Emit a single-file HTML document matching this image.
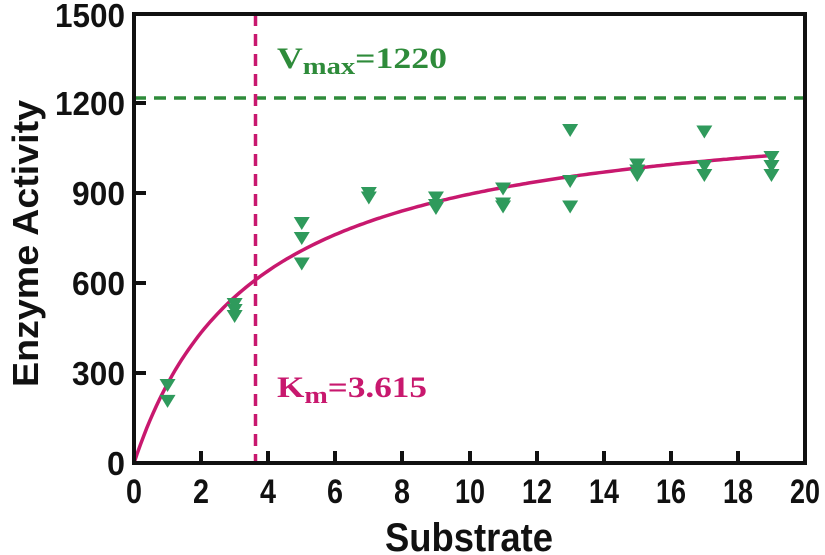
<!DOCTYPE html><html><head><meta charset="utf-8"><style>body{margin:0;background:#fff}svg{display:block}</style></head><body>
<svg width="825" height="555" viewBox="0 0 825 555" font-family="Liberation Sans, sans-serif">
<defs><path id="t" d="M-8,-6 L8,-6 L0,7 Z" fill="#2f9a5c"/></defs>
<line x1="134" y1="98" x2="805" y2="98" stroke="#2e8b3a" stroke-width="3.5" stroke-dasharray="12,8"/>
<line x1="255.5" y1="14" x2="255.5" y2="463" stroke="#c8186e" stroke-width="3.5" stroke-dasharray="12,8"/>
<path id="curve" fill="none" stroke="#c8186e" stroke-width="3.5" d=""/>
<g id="pts"></g>
<rect x="134" y="14" width="671" height="449" fill="none" stroke="#111" stroke-width="4"/>
<g stroke="#111" stroke-width="4">
<line x1="134" y1="373" x2="146" y2="373"/><line x1="134" y1="283" x2="146" y2="283"/><line x1="134" y1="193" x2="146" y2="193"/><line x1="134" y1="103" x2="146" y2="103"/>
<line x1="201" y1="463" x2="201" y2="451"/><line x1="268" y1="463" x2="268" y2="451"/><line x1="335" y1="463" x2="335" y2="451"/><line x1="402" y1="463" x2="402" y2="451"/><line x1="470" y1="463" x2="470" y2="451"/><line x1="537" y1="463" x2="537" y2="451"/><line x1="604" y1="463" x2="604" y2="451"/><line x1="671" y1="463" x2="671" y2="451"/><line x1="738" y1="463" x2="738" y2="451"/>
</g>
<g font-size="33" font-weight="bold" fill="#111">
<text x="55" y="27" textLength="70" lengthAdjust="spacingAndGlyphs">1500</text>
<text x="55" y="115" textLength="70" lengthAdjust="spacingAndGlyphs">1200</text>
<text x="72" y="205" textLength="53" lengthAdjust="spacingAndGlyphs">900</text>
<text x="72" y="295" textLength="53" lengthAdjust="spacingAndGlyphs">600</text>
<text x="72" y="385" textLength="53" lengthAdjust="spacingAndGlyphs">300</text>
<text x="107" y="475" textLength="18" lengthAdjust="spacingAndGlyphs">0</text>
</g>
<g font-size="34" font-weight="bold" fill="#111">
<text x="126" y="503" textLength="16" lengthAdjust="spacingAndGlyphs">0</text>
<text x="193" y="503" textLength="16" lengthAdjust="spacingAndGlyphs">2</text>
<text x="260" y="503" textLength="16" lengthAdjust="spacingAndGlyphs">4</text>
<text x="327" y="503" textLength="16" lengthAdjust="spacingAndGlyphs">6</text>
<text x="394" y="503" textLength="16" lengthAdjust="spacingAndGlyphs">8</text>
<text x="455" y="503" textLength="30" lengthAdjust="spacingAndGlyphs">10</text>
<text x="522" y="503" textLength="30" lengthAdjust="spacingAndGlyphs">12</text>
<text x="589" y="503" textLength="30" lengthAdjust="spacingAndGlyphs">14</text>
<text x="656" y="503" textLength="30" lengthAdjust="spacingAndGlyphs">16</text>
<text x="723" y="503" textLength="30" lengthAdjust="spacingAndGlyphs">18</text>
<text x="790" y="503" textLength="30" lengthAdjust="spacingAndGlyphs">20</text>
<text x="385" y="551" font-size="40" textLength="168" lengthAdjust="spacingAndGlyphs">Substrate</text>
<text transform="translate(38,387) rotate(-90)" font-size="36" textLength="287" lengthAdjust="spacingAndGlyphs">Enzyme Activity</text>
</g>
<text x="277" y="68" font-family="Liberation Serif, serif" font-weight="bold" font-size="30" fill="#2e8b3a" textLength="170" lengthAdjust="spacingAndGlyphs">V<tspan font-size="24" dy="6">max</tspan><tspan dy="-6">=1220</tspan></text>
<text x="277" y="397" font-family="Liberation Serif, serif" font-weight="bold" font-size="30" fill="#c8186e" textLength="150" lengthAdjust="spacingAndGlyphs">K<tspan font-size="24" dy="6">m</tspan><tspan dy="-6">=3.615</tspan></text>
</svg>
<script>
var X=function(x){return 134+x*33.55},Y=function(v){return 463-v*0.3};
var d="";for(var i=0;i<=200;i++){var x=i*0.095;var v=1220*x/(3.615+x);d+=(i?"L":"M")+X(x).toFixed(1)+","+Y(v).toFixed(1);}
document.getElementById("curve").setAttribute("d",d);
var data={1:[260,207],3:[530,510,490],5:[800,750,665],7:[900,885],9:[885,860,850],11:[915,865,855],13:[1110,940,855],15:[995,975,960],17:[1105,990,960],19:[1020,990,960]};
var g=document.getElementById("pts"),s="";
for(var k in data)data[k].forEach(function(v){s+='<use href="#t" x="'+X(+k)+'" y="'+Y(v)+'"/>';});
g.innerHTML=s;
</script>
</body></html>
